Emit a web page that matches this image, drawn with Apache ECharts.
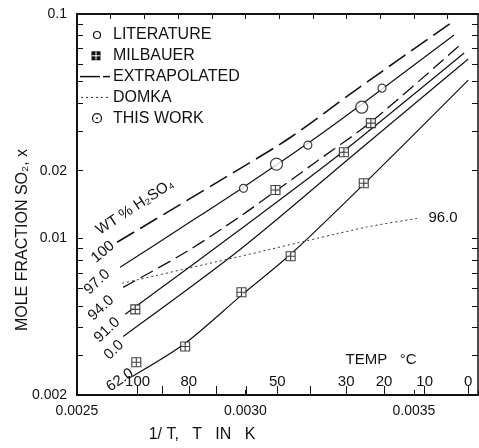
<!DOCTYPE html>
<html><head><meta charset="utf-8">
<script src="https://cdn.jsdelivr.net/npm/echarts@6/dist/echarts.min.js"></script>
<style>html,body{margin:0;padding:0;background:#fff}#c{width:479px;height:448px}</style>
</head><body><div id="c"></div>
<script>
// ---- axis ticks / labels ----
const xTickLabels = [0.0025, 0.0030, 0.0035];
const xTopTicks = [0.0025,0.0026,0.0027,0.0028,0.0029,0.0030,0.0031,0.0032,0.0033,0.0034,0.0035,0.0036];
const yTickLabels = [0.002, 0.01, 0.02, 0.1];
const yTicks = [0.002,0.003,0.004,0.005,0.006,0.007,0.008,0.009,0.01,0.02,0.03,0.04,0.05,0.06,0.07,0.08,0.09,0.1];
const tempTicksC = [100,90,80,70,60,50,40,30,20,10,0];
const tempLabelsC = [100,80,50,30,20,10,0];

// ---- curves (x = 1/T in 1/K, y = mole fraction SO2) ----
const wt100X = [0.002619,0.002985,0.003134,0.003327,0.003610];
const wt100Y = [0.0096,0.0205,0.0282,0.0458,0.0912];
const wt97X = [0.002628,0.002807,0.002994,0.003185,0.003345,0.003619];
const wt97Y = [0.00742,0.01108,0.0169,0.0265,0.0396,0.0806];
const wt94X = [0.002637,0.002827,0.002985,0.003089,0.003208,0.003372,0.003640];
const wt94Y = [0.00604,0.00875,0.01254,0.01621,0.02184,0.03295,0.0735];
const wt91X = [0.002643,0.002985,0.003292,0.003649];
const wt91Y = [0.00458,0.01097,0.0245,0.0670];
const wt80X = [0.002637,0.002985,0.003327,0.003661];
const wt80Y = [0.00365,0.00893,0.0240,0.0630];
const wt62X = [0.002664,0.002821,0.002991,0.003134,0.003351,0.003661];
const wt62Y = [0.002421,0.0034,0.00562,0.00848,0.01742,0.0507];
const domkaX = [0.002634,0.002985,0.003357,0.003512];
const domkaY = [0.0063,0.00831,0.0112,0.01228];
// ---- points ----
const litX = [0.002994,0.003185,0.003405];
const litY = [0.0167,0.0260,0.0467];
const thisX = [0.003092,0.003345];
const thisY = [0.0214,0.0384];
const milX = [0.002673,0.002676,0.002821,0.002988,0.003134,0.003351,0.003089,0.003292,0.003372];
const milY = [0.00482,0.0028,0.00329,0.00574,0.00831,0.0176,0.0164,0.0242,0.0326];
// ---- legend entries ----
const legendNames = ['LITERATURE', 'MILBAUER', 'EXTRAPOLATED', 'DOMKA', 'THIS WORK'];

const zip = (a, b) => a.map((v, i) => [v, b[i]]);
const F = "'Liberation Sans Narrow','Liberation Sans','DejaVu Sans',sans-serif";
const INK = '#111';
const toInvT = c => 1 / (c + 273.15);
const milSym = 'path://M0,0L10,0L10,10L0,10Z M5,0L5,10 M0,5L10,5';

const XMIN = 0.0025, XMAX = 0.00369;

const lineS = (name, xs, ys, type, width) => ({
  name, type: 'line', data: zip(xs, ys), symbol: 'none', smooth: 0.3,
  lineStyle: { color: INK, width: width || 1.2, type: type || 'solid' },
  z: 2, silent: true
});

const chart = echarts.init(document.getElementById('c'), null, { renderer: 'canvas' });
const txt = (text, x, y, rot, size, align) => ({
  type: 'text', x, y, rotation: rot || 0,
  style: { text, font: (size || 15) + 'px ' + F, fill: INK, align: align || 'center', verticalAlign: 'middle' }
});
const seg = (x1, y1, x2, y2, w, dash, color) => ({
  type: 'line', shape: { x1, y1, x2, y2 },
  style: { stroke: color || INK, lineWidth: w || 1.2, lineDash: dash || null }
});

// legend built as graphic elements
const LX = 113, LY0 = 35, LDY = 20.8;
const legendGraphic = [
  { type: 'circle', shape: { cx: 97, cy: LY0, r: 3.5 }, style: { fill: '#fff', stroke: INK, lineWidth: 1.2 } },
  { type: 'rect', shape: { x: 91.5, y: LY0 + LDY - 4.5, width: 9, height: 9 }, style: { fill: INK } },
  seg(96, LY0 + LDY - 4, 96, LY0 + LDY + 4, 1, null, '#fff'),
  seg(92, LY0 + LDY, 100, LY0 + LDY, 1, null, '#fff'),
  seg(80, LY0 + 2 * LDY, 100, LY0 + 2 * LDY, 1.5),
  seg(103, LY0 + 2 * LDY, 110, LY0 + 2 * LDY, 1.5),
  seg(81, LY0 + 3 * LDY, 110, LY0 + 3 * LDY, 1, [2, 3], '#333'),
  { type: 'circle', shape: { cx: 97, cy: LY0 + 4 * LDY, r: 4.5 }, style: { fill: '#fff', stroke: INK, lineWidth: 1.2 } },
  { type: 'circle', shape: { cx: 97, cy: LY0 + 4 * LDY, r: 0.9 }, style: { fill: INK } }
].concat(legendNames.map((n, i) => txt(n, LX, LY0 + i * LDY, 0, 16, 'left')));

chart.setOption({
  animation: false,
  backgroundColor: '#fff',
  grid: { left: 77, right: 1, top: 14, bottom: 53 },
  xAxis: [
    { type: 'value', position: 'bottom', min: XMIN, max: XMAX, interval: 0.0005,
      axisLine: { show: true, lineStyle: { color: INK, width: 2 } },
      axisTick: { show: true, inside: true, length: 5, lineStyle: { color: INK } },
      axisLabel: { show: true, customValues: xTickLabels, formatter: v => v.toFixed(4), fontFamily: F, fontSize: 14, color: INK, margin: 9 },
      splitLine: { show: false } },
    { type: 'value', position: 'top', min: XMIN, max: XMAX,
      axisLine: { show: true, onZero: false, lineStyle: { color: INK, width: 2 } },
      axisTick: { show: true, inside: true, length: 5, customValues: xTopTicks, lineStyle: { color: INK } },
      axisLabel: { show: false }, splitLine: { show: false } },
    { type: 'value', position: 'bottom', min: XMIN, max: XMAX,
      axisLine: { show: false },
      axisTick: { show: true, inside: true, length: 9, customValues: tempTicksC.map(toInvT), lineStyle: { color: INK } },
      axisLabel: { show: true, inside: true, margin: 6, customValues: tempLabelsC.map(toInvT),
        formatter: v => String(Math.round(1 / v - 273.15)), fontFamily: F, fontSize: 15, color: INK },
      splitLine: { show: false } }
  ],
  yAxis: [
    { type: 'log', logBase: 10, min: 0.002, max: 0.1, position: 'left',
      axisLine: { show: true, onZero: false, lineStyle: { color: INK, width: 2 } },
      axisTick: { show: true, inside: true, length: 6, customValues: yTicks, lineStyle: { color: INK } },
      axisLabel: { show: true, customValues: yTickLabels, formatter: v => String(+v.toPrecision(3)), fontFamily: F, fontSize: 14, color: INK, margin: 10 },
      splitLine: { show: false }, minorTick: { show: false } },
    { type: 'log', logBase: 10, min: 0.002, max: 0.1, position: 'right',
      axisLine: { show: true, onZero: false, lineStyle: { color: INK, width: 1.5 } },
      axisTick: { show: true, inside: true, length: 6, customValues: yTicks, lineStyle: { color: INK } },
      axisLabel: { show: false }, splitLine: { show: false } }
  ],
  series: [
    lineS('EXTRAPOLATED', wt100X, wt100Y, [20, 7], 1.6),
    lineS('97.0', wt97X, wt97Y),
    lineS('94.0', wt94X, wt94Y, [14, 6], 1.3),
    lineS('91.0', wt91X, wt91Y),
    lineS('0.0', wt80X, wt80Y),
    lineS('62.0', wt62X, wt62Y),
    { name: 'DOMKA', type: 'line', data: zip(domkaX, domkaY), symbol: 'none', smooth: 0.2,
      lineStyle: { color: '#333', width: 1, type: [2, 3] }, z: 2, silent: true },
    { name: 'LITERATURE', type: 'scatter', data: zip(litX, litY), symbol: 'circle', symbolSize: 8,
      itemStyle: { color: '#fff', borderColor: INK, borderWidth: 1.2 }, z: 5 },
    { name: 'THIS WORK', type: 'scatter', data: zip(thisX, thisY), symbol: 'circle', symbolSize: 12,
      itemStyle: { color: '#fff', borderColor: INK, borderWidth: 1.2 }, z: 5 },
    { name: 'MILBAUER', type: 'scatter', data: zip(milX, milY), symbol: milSym, symbolSize: 9,
      itemStyle: { color: '#fff', borderColor: INK, borderWidth: 1.1 }, z: 6 }
  ],
  graphic: legendGraphic.concat([
    txt('MOLE FRACTION SO₂, x', 23, 240, Math.PI / 2, 16),
    txt('1/ T,   T   IN   K', 202, 435, 0, 16),
    txt('TEMP   °C', 381, 360, 0, 15),
    txt('WT % H₂SO₄', 135, 207, 0.58, 15),
    txt('100', 103, 252, 0.7, 15),
    txt('97.0', 97, 282, 0.75, 15),
    txt('94.0', 101, 308, 0.75, 15),
    txt('91.0', 107, 330, 0.75, 15),
    txt('0.0', 114, 350, 0.75, 15),
    txt('62.0', 120, 380, 0.6, 15),
    txt('96.0', 443, 218, 0, 15)
  ])
});
</script></body></html>
